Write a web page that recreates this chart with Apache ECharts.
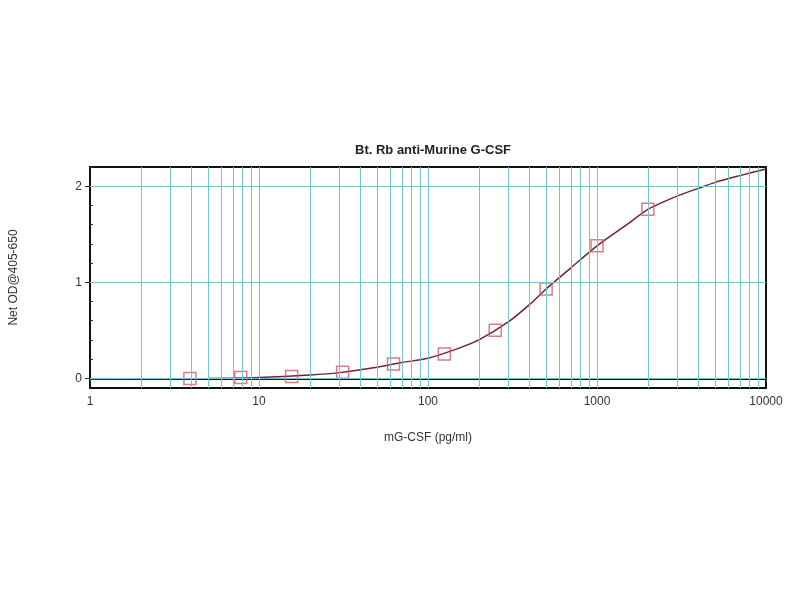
<!DOCTYPE html>
<html><head><meta charset="utf-8">
<script src="https://cdn.jsdelivr.net/npm/echarts@6/dist/echarts.min.js"></script>
<style>html,body{margin:0;padding:0;background:#fff}#c{width:800px;height:600px}</style>
</head><body><div id="c"></div>
<script>
// Measured standards (pg/ml) and Net OD
const stdConc = [3.9, 7.8, 15.6, 31.25, 62.5, 125, 250, 500, 1000, 2000];
const stdOD   = [0.0, 0.01, 0.02, 0.065, 0.15, 0.255, 0.50, 0.93, 1.38, 1.76];
// Fitted curve
const curveConc = [1, 2, 5, 10, 20, 30, 50, 70, 100, 150, 200, 300, 400, 500, 700, 1000, 1500, 2000, 3000, 4000, 5000, 7000, 10000];
const curveOD   = [-0.01, -0.005, 0.0, 0.01, 0.035, 0.06, 0.115, 0.165, 0.21, 0.31, 0.40, 0.59, 0.77, 0.93, 1.15, 1.38, 1.60, 1.76, 1.90, 1.98, 2.04, 2.11, 2.18];
const xGrid = [2,3,4,5,6,7,8,9,10,20,30,40,50,60,70,80,90,100,200,300,400,500,600,700,800,900,1000,2000,3000,4000,5000,6000,7000,8000,9000];
const yGrid = [0, 1, 2];
const yLabels = [0, 1, 2];
const yMinor = [0.2,0.4,0.6,0.8,1.2,1.4,1.6,1.8,2.2];
const title = 'Bt. Rb anti-Murine G-CSF';
const xName = 'mG-CSF (pg/ml)';
const yName = 'Net OD@405-650';

const chart = echarts.init(document.getElementById('c'));
const gridColor = '#79c3cc';
chart.setOption({
  backgroundColor: '#fff',
  animation: false,
  title: { text: title, left: 428, textAlign: 'center', top: 139,
    textStyle: { fontFamily: 'Liberation Sans, Arial', fontSize: 13, fontWeight: 'bold', color: '#222' } },
  grid: { left: 90, right: 34, top: 167, bottom: 212, show: true, borderColor: '#111', borderWidth: 2, backgroundColor: '#fff' },
  xAxis: {
    type: 'log', logBase: 10, min: 1, max: 10000,
    name: xName, nameLocation: 'middle', nameGap: 44,
    nameTextStyle: { fontFamily: 'Liberation Sans, Arial', fontSize: 12, color: '#333' },
    axisLine: { show: true, lineStyle: { color: '#111', width: 2 } },
    axisTick: { show: true, length: 4, lineStyle: { color: '#333' } },
    axisLabel: { fontFamily: 'Liberation Sans, Arial', fontSize: 12, color: '#333', margin: 8,
      formatter: v => String(Math.round(v)) },
    splitLine: { show: false }
  },
  yAxis: [{
    type: 'value', min: -0.1, max: 2.2,
    name: yName, nameLocation: 'middle', nameGap: 70, nameRotate: 90,
    nameTextStyle: { fontFamily: 'Liberation Sans, Arial', fontSize: 12, color: '#333' },
    axisLine: { show: true, lineStyle: { color: '#111', width: 2 } },
    axisTick: { show: true, length: 5, customValues: yLabels, lineStyle: { color: '#333' } },
    axisLabel: { customValues: yLabels, fontFamily: 'Liberation Sans, Arial', fontSize: 12, color: '#333', margin: 8 },
    splitLine: { show: false }
  }, {
    type: 'value', min: -0.1, max: 2.2, position: 'left',
    axisLine: { show: false },
    axisTick: { show: true, inside: true, length: 3, customValues: yMinor, lineStyle: { color: '#333' } },
    axisLabel: { show: false },
    splitLine: { show: false }
  }],
  series: [
    {
      type: 'line', data: [], silent: true,
      markLine: {
        silent: true, symbol: 'none', label: { show: false },
        lineStyle: { color: gridColor, width: 1, type: 'solid' },
        data: xGrid.map(v => ({ xAxis: v })).concat(yGrid.map(v => ({ yAxis: v })))
      }
    },
    {
      type: 'line', data: curveConc.map((c, i) => [c, curveOD[i]]),
      smooth: 0.25, showSymbol: false, symbol: 'none',
      lineStyle: { color: '#6e2530', width: 1.5 }, z: 3
    },
    {
      type: 'scatter', data: stdConc.map((c, i) => [c, stdOD[i]]),
      symbol: 'rect', symbolSize: 12,
      itemStyle: { color: 'rgba(0,0,0,0)', borderColor: '#c95d6e', borderWidth: 1.5 }, z: 4
    }
  ]
});
</script></body></html>
